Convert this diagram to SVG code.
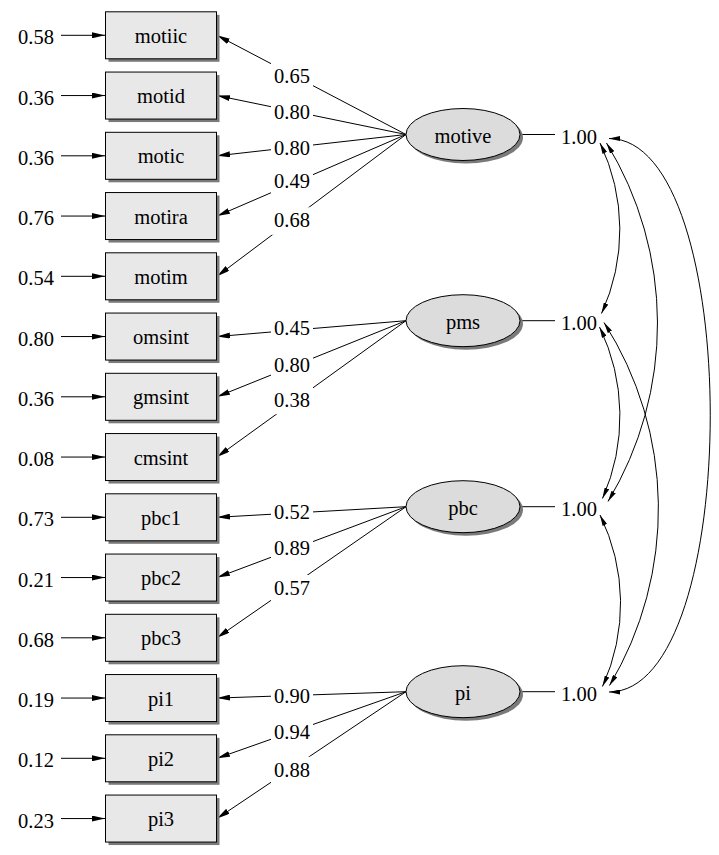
<svg xmlns="http://www.w3.org/2000/svg" width="719" height="855" viewBox="0 0 719 855" font-family="'Liberation Serif', 'DejaVu Serif', serif" font-size="20.5">
<style>
text{font-family:'Liberation Serif','DejaVu Serif',serif;font-size:20.5px;fill:#000}
.box{fill:#e8e8e8;stroke:#000;stroke-width:1}
.lat{fill:#dcdcdc;stroke:#000;stroke-width:1}
.sh{fill:#7a7a7a;stroke:none}
.lbl{text-anchor:middle}
.ln{stroke:#000;stroke-width:1;fill:none}
.arr{marker-end:url(#ah)}
.cov{stroke:#000;stroke-width:1;fill:none;marker-start:url(#ch);marker-end:url(#ch)}
.bg{fill:#fff;stroke:none}
</style>
<defs>
<marker id="ah" markerUnits="userSpaceOnUse" viewBox="0 0 13 6" refX="13" refY="3" markerWidth="13" markerHeight="6" orient="auto"><path d="M0,0 L13,3 L0,6 z" fill="#000"/></marker>
<marker id="ch" markerUnits="userSpaceOnUse" viewBox="0 0 11 5" refX="11" refY="2.5" markerWidth="11" markerHeight="5" orient="auto-start-reverse"><path d="M0,0 L11,2.5 L0,5 z" fill="#000"/></marker>
</defs>
<rect width="719" height="855" fill="#fff"/>

<g id="connectors">
<line class="ln arr" x1="61" y1="35.3" x2="105" y2="35.3"/>
<line class="ln arr" x1="61" y1="95.55" x2="105" y2="95.55"/>
<line class="ln arr" x1="61" y1="155.8" x2="105" y2="155.8"/>
<line class="ln arr" x1="61" y1="216.05" x2="105" y2="216.05"/>
<line class="ln arr" x1="61" y1="276.3" x2="105" y2="276.3"/>
<line class="ln arr" x1="61" y1="336.55" x2="105" y2="336.55"/>
<line class="ln arr" x1="61" y1="396.8" x2="105" y2="396.8"/>
<line class="ln arr" x1="61" y1="457.05" x2="105" y2="457.05"/>
<line class="ln arr" x1="61" y1="517.3" x2="105" y2="517.3"/>
<line class="ln arr" x1="61" y1="577.55" x2="105" y2="577.55"/>
<line class="ln arr" x1="61" y1="637.8" x2="105" y2="637.8"/>
<line class="ln arr" x1="61" y1="698.05" x2="105" y2="698.05"/>
<line class="ln arr" x1="61" y1="758.3" x2="105" y2="758.3"/>
<line class="ln arr" x1="61" y1="818.55" x2="105" y2="818.55"/>
<line class="ln arr" x1="406" y1="134.5" x2="217" y2="35.3"/>
<line class="ln arr" x1="406" y1="134.5" x2="217" y2="95.55"/>
<line class="ln arr" x1="406" y1="134.5" x2="217" y2="155.8"/>
<line class="ln arr" x1="406" y1="134.5" x2="217" y2="216.05"/>
<line class="ln arr" x1="406" y1="134.5" x2="217" y2="276.3"/>
<line class="ln arr" x1="406" y1="320.7" x2="217" y2="336.55"/>
<line class="ln arr" x1="406" y1="320.7" x2="217" y2="396.8"/>
<line class="ln arr" x1="406" y1="320.7" x2="217" y2="457.05"/>
<line class="ln arr" x1="406" y1="506.7" x2="217" y2="517.3"/>
<line class="ln arr" x1="406" y1="506.7" x2="217" y2="577.55"/>
<line class="ln arr" x1="406" y1="506.7" x2="217" y2="637.8"/>
<line class="ln arr" x1="406" y1="691.7" x2="217" y2="698.05"/>
<line class="ln arr" x1="406" y1="691.7" x2="217" y2="758.3"/>
<line class="ln arr" x1="406" y1="691.7" x2="217" y2="818.55"/>
<rect class="bg" x="271" y="62.7" width="42" height="27.5"/><text class="lbl" x="292" y="82.7">0.65</text>
<rect class="bg" x="271" y="99.3" width="42" height="27.5"/><text class="lbl" x="292" y="119.3">0.80</text>
<rect class="bg" x="271" y="135" width="42" height="27.5"/><text class="lbl" x="292" y="155">0.80</text>
<rect class="bg" x="271" y="167.7" width="42" height="27.5"/><text class="lbl" x="292" y="187.7">0.49</text>
<rect class="bg" x="271" y="207.3" width="42" height="27.5"/><text class="lbl" x="292" y="227.3">0.68</text>
<rect class="bg" x="271" y="315" width="42" height="27.5"/><text class="lbl" x="292" y="335">0.45</text>
<rect class="bg" x="271" y="351.7" width="42" height="27.5"/><text class="lbl" x="292" y="371.7">0.80</text>
<rect class="bg" x="271" y="386.7" width="42" height="27.5"/><text class="lbl" x="292" y="406.7">0.38</text>
<rect class="bg" x="271" y="499.3" width="42" height="27.5"/><text class="lbl" x="292" y="519.3">0.52</text>
<rect class="bg" x="271" y="535" width="42" height="27.5"/><text class="lbl" x="292" y="555">0.89</text>
<rect class="bg" x="271" y="575" width="42" height="27.5"/><text class="lbl" x="292" y="595">0.57</text>
<rect class="bg" x="271" y="682.7" width="42" height="27.5"/><text class="lbl" x="292" y="702.7">0.90</text>
<rect class="bg" x="271" y="719.3" width="42" height="27.5"/><text class="lbl" x="292" y="739.3">0.94</text>
<rect class="bg" x="271" y="756.7" width="42" height="27.5"/><text class="lbl" x="292" y="776.7">0.88</text>
<line class="ln" x1="520" y1="134.5" x2="555" y2="134.5"/>
<line class="ln" x1="520" y1="320.7" x2="555" y2="320.7"/>
<line class="ln" x1="520" y1="506.7" x2="555" y2="506.7"/>
<line class="ln" x1="520" y1="691.7" x2="555" y2="691.7"/>
<path class="cov" d="M600,143 A200,200 0 0 1 601.5,313.5"/>
<path class="cov" d="M599.5,327 A204,204 0 0 1 602.5,498.5"/>
<path class="cov" d="M600,515 A200,200 0 0 1 602.5,686.5"/>
<path class="cov" d="M606.5,143 A345,345 0 0 1 608,501.5"/>
<path class="cov" d="M604,322.5 A345,345 0 0 1 609.5,685.5"/>
<path class="cov" d="M609,138.5 C744,138.5 744,692 609,692"/>
</g>

<g id="motiic"><text x="18" y="44.3">0.58</text><rect class="sh" x="108.5" y="14.8" width="111" height="47"/><rect class="box" x="105.5" y="11.8" width="111" height="47"/><text class="lbl" x="161" y="42.8">motiic</text></g>
<g id="motid"><text x="18" y="104.55">0.36</text><rect class="sh" x="108.5" y="75.05" width="111" height="47"/><rect class="box" x="105.5" y="72.05" width="111" height="47"/><text class="lbl" x="161" y="103.05">motid</text></g>
<g id="motic"><text x="18" y="164.8">0.36</text><rect class="sh" x="108.5" y="135.3" width="111" height="47"/><rect class="box" x="105.5" y="132.3" width="111" height="47"/><text class="lbl" x="161" y="163.3">motic</text></g>
<g id="motira"><text x="18" y="225.05">0.76</text><rect class="sh" x="108.5" y="195.55" width="111" height="47"/><rect class="box" x="105.5" y="192.55" width="111" height="47"/><text class="lbl" x="161" y="223.55">motira</text></g>
<g id="motim"><text x="18" y="285.3">0.54</text><rect class="sh" x="108.5" y="255.8" width="111" height="47"/><rect class="box" x="105.5" y="252.8" width="111" height="47"/><text class="lbl" x="161" y="283.8">motim</text></g>
<g id="omsint"><text x="18" y="345.55">0.80</text><rect class="sh" x="108.5" y="316.05" width="111" height="47"/><rect class="box" x="105.5" y="313.05" width="111" height="47"/><text class="lbl" x="161" y="344.05">omsint</text></g>
<g id="gmsint"><text x="18" y="405.8">0.36</text><rect class="sh" x="108.5" y="376.3" width="111" height="47"/><rect class="box" x="105.5" y="373.3" width="111" height="47"/><text class="lbl" x="161" y="404.3">gmsint</text></g>
<g id="cmsint"><text x="18" y="466.05">0.08</text><rect class="sh" x="108.5" y="436.55" width="111" height="47"/><rect class="box" x="105.5" y="433.55" width="111" height="47"/><text class="lbl" x="161" y="464.55">cmsint</text></g>
<g id="pbc1"><text x="18" y="526.3">0.73</text><rect class="sh" x="108.5" y="496.8" width="111" height="47"/><rect class="box" x="105.5" y="493.8" width="111" height="47"/><text class="lbl" x="161" y="524.8">pbc1</text></g>
<g id="pbc2"><text x="18" y="586.55">0.21</text><rect class="sh" x="108.5" y="557.05" width="111" height="47"/><rect class="box" x="105.5" y="554.05" width="111" height="47"/><text class="lbl" x="161" y="585.05">pbc2</text></g>
<g id="pbc3"><text x="18" y="646.8">0.68</text><rect class="sh" x="108.5" y="617.3" width="111" height="47"/><rect class="box" x="105.5" y="614.3" width="111" height="47"/><text class="lbl" x="161" y="645.3">pbc3</text></g>
<g id="pi1"><text x="18" y="707.05">0.19</text><rect class="sh" x="108.5" y="677.55" width="111" height="47"/><rect class="box" x="105.5" y="674.55" width="111" height="47"/><text class="lbl" x="161" y="705.55">pi1</text></g>
<g id="pi2"><text x="18" y="767.3">0.12</text><rect class="sh" x="108.5" y="737.8" width="111" height="47"/><rect class="box" x="105.5" y="734.8" width="111" height="47"/><text class="lbl" x="161" y="765.8">pi2</text></g>
<g id="pi3"><text x="18" y="827.55">0.23</text><rect class="sh" x="108.5" y="798.05" width="111" height="47"/><rect class="box" x="105.5" y="795.05" width="111" height="47"/><text class="lbl" x="161" y="826.05">pi3</text></g>

<g id="motive"><ellipse class="sh" cx="466" cy="137.5" rx="57" ry="26"/><ellipse class="lat" cx="463" cy="134.5" rx="57" ry="26"/><text class="lbl" x="463" y="142.5">motive</text><text x="561" y="143.5">1.00</text></g>
<g id="pms"><ellipse class="sh" cx="466" cy="323.7" rx="57" ry="26"/><ellipse class="lat" cx="463" cy="320.7" rx="57" ry="26"/><text class="lbl" x="463" y="328.7">pms</text><text x="561" y="329.7">1.00</text></g>
<g id="pbc"><ellipse class="sh" cx="466" cy="509.7" rx="57" ry="26"/><ellipse class="lat" cx="463" cy="506.7" rx="57" ry="26"/><text class="lbl" x="463" y="514.7">pbc</text><text x="561" y="515.7">1.00</text></g>
<g id="pi"><ellipse class="sh" cx="466" cy="694.7" rx="57" ry="26"/><ellipse class="lat" cx="463" cy="691.7" rx="57" ry="26"/><text class="lbl" x="463" y="699.7">pi</text><text x="561" y="700.7">1.00</text></g>
</svg>
